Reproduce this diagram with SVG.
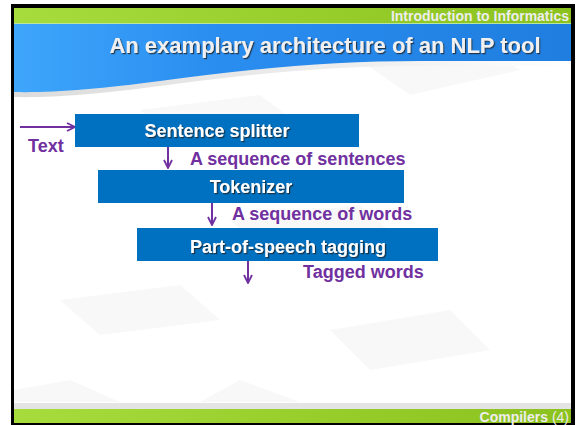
<svg xmlns="http://www.w3.org/2000/svg" width="579" height="425" viewBox="0 0 579 425">
  <defs>
    <linearGradient id="green" x1="0" y1="0" x2="1" y2="0">
      <stop offset="0" stop-color="#a6dc3c"/>
      <stop offset="1" stop-color="#8cc21e"/>
    </linearGradient>
    <linearGradient id="blue" x1="0" y1="0" x2="1" y2="0">
      <stop offset="0" stop-color="#3ea6fb"/>
      <stop offset="0.35" stop-color="#2a8ef0"/>
      <stop offset="1" stop-color="#1f7ee0"/>
    </linearGradient>
    <linearGradient id="shade" x1="0" y1="0" x2="1" y2="0">
      <stop offset="0" stop-color="#dcdcdc"/>
      <stop offset="0.6" stop-color="#eeeeee"/>
      <stop offset="1" stop-color="#ffffff"/>
    </linearGradient>
    <filter id="tshadow" x="-5%" y="-20%" width="110%" height="150%">
      <feDropShadow dx="1.2" dy="1.2" stdDeviation="0.6" flood-color="#222" flood-opacity="0.8"/>
    </filter>
    <marker id="arr" viewBox="0 0 10 10" refX="9" refY="5" markerWidth="10" markerHeight="10" markerUnits="userSpaceOnUse" orient="auto">
      <path d="M1,1 L9,5 L1,9" fill="none" stroke="#7030a0" stroke-width="1.8"/>
    </marker>
    <style>
      .box { fill: #0070c0; }
      .btxt { font-family: "Liberation Sans", Arial, sans-serif; font-weight: bold; font-size: 18px; fill: #ffffff; text-anchor: middle; filter: url(#tshadow); }
      .lbl { font-family: "Liberation Sans", Arial, sans-serif; font-weight: bold; font-size: 18px; fill: #7030a0; }
      .conn { stroke: #7030a0; stroke-width: 2; fill: none; marker-end: url(#arr); }
      .bar { font-family: "Liberation Sans", Arial, sans-serif; font-weight: bold; font-size: 14px; fill: #eeeeee; text-anchor: end; }
      .tile { fill: #f8f8f8; }
    </style>
  </defs>

  <!-- frame -->
  <rect x="0" y="0" width="579" height="425" fill="#ffffff"/>
  <rect x="11" y="4" width="564" height="421" fill="#000000"/>
  <rect x="14" y="8" width="557" height="415" fill="#ffffff"/>

  <!-- faint background tiles -->
  <g id="background">
    <polygon class="tile" points="140,110 260,95 300,125 180,140"/>
    <polygon class="tile" points="360,60 470,40 520,70 410,95"/>
    <polygon class="tile" points="230,220 360,205 400,240 270,255"/>
    <polygon class="tile" points="60,300 180,285 220,320 100,335"/>
    <polygon class="tile" points="330,330 450,310 490,350 370,370"/>
    <polygon class="tile" points="70,380 120,402 14,402 14,390"/>
    <polygon class="tile" points="240,380 300,402 200,402"/>
  </g>

  <!-- header -->
  <g id="header">
    <rect x="14" y="8" width="557" height="15" fill="url(#green)"/>
    <rect x="14" y="23" width="557" height="1.5" fill="#b8e6a0"/>
    <path d="M14,24 H571 V66 H420 C330,66 250,74 160,86 C100,94 50,98 14,97 Z" fill="url(#shade)"/>
    <path d="M14,24 H571 V61 H420 C330,61 250,69 160,81 C100,89 50,93 14,92 Z" fill="url(#blue)"/>
    <text class="bar" x="569" y="20.5">Introduction to Informatics</text>
    <text x="325" y="53" font-family="Liberation Sans, Arial, sans-serif" font-weight="bold" font-size="22" fill="#f0f0f0" text-anchor="middle" filter="url(#tshadow)">An examplary architecture of an NLP tool</text>
  </g>

  <!-- footer -->
  <g id="footer">
    <rect x="14" y="403" width="557" height="6" fill="#e4e4e4"/>
    <rect x="14" y="409" width="557" height="14" fill="url(#green)"/>
    <text class="bar" x="569" y="421.5">Compilers <tspan font-weight="normal">(4)</tspan></text>
  </g>

  <!-- connectors -->
  <g id="connectors">
    <line class="conn" x1="20" y1="127" x2="75" y2="127"/>
    <line class="conn" x1="168" y1="147" x2="168" y2="168"/>
    <line class="conn" x1="212" y1="203" x2="212" y2="225"/>
    <line class="conn" x1="248" y1="261" x2="248" y2="283"/>
  </g>

  <!-- labels -->
  <g id="labels">
    <text class="lbl" x="28" y="152">Text</text>
    <text class="lbl" x="190" y="165">A sequence of sentences</text>
    <text class="lbl" x="232" y="220">A sequence of words</text>
    <text class="lbl" x="303" y="278">Tagged words</text>
  </g>

  <!-- nodes -->
  <g id="sentence-splitter">
    <rect class="box" x="75" y="114" width="284" height="33"/>
    <text class="btxt" x="217" y="137">Sentence splitter</text>
  </g>
  <g id="tokenizer">
    <rect class="box" x="98" y="170" width="306" height="33"/>
    <text class="btxt" x="251" y="193">Tokenizer</text>
  </g>
  <g id="pos-tagging">
    <rect class="box" x="137" y="228" width="301" height="33"/>
    <text class="btxt" x="288" y="253">Part-of-speech tagging</text>
  </g>
</svg>
